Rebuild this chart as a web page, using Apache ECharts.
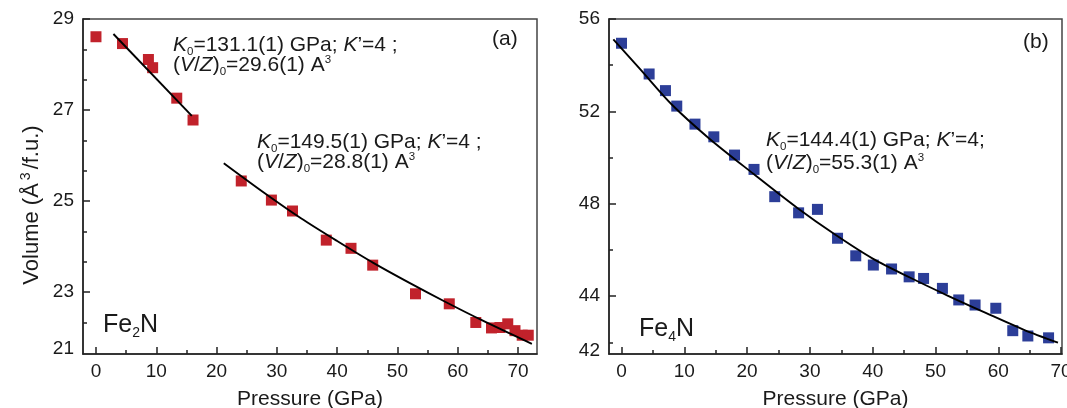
<!DOCTYPE html>
<html>
<head>
<meta charset="utf-8">
<script src="https://cdn.jsdelivr.net/npm/echarts@6/dist/echarts.min.js"></script>
<style>
html,body{margin:0;padding:0;background:#fff;}
#chart{width:1067px;height:408px;}
</style>
</head>
<body>
<div id="chart"></div>
<script>
// ---------- Data ----------
// Fe2N (panel a)
const fe2nP = [0, 4.4, 8.7, 9.4, 13.4, 16.1, 24.1, 29.1, 32.6, 38.2, 42.3, 45.9, 53.0, 58.6, 63.0, 65.6, 67.0, 68.3, 69.5, 70.7, 71.7];
const fe2nV = [28.61, 28.46, 28.11, 27.93, 27.26, 26.78, 25.44, 25.02, 24.78, 24.14, 23.96, 23.59, 22.96, 22.74, 22.33, 22.21, 22.22, 22.30, 22.15, 22.05, 22.05];
// fit line, low-pressure phase
const fe2nFit1P = [2.9, 15.9];
const fe2nFit1V = [28.67, 26.87];
// fit line, high-pressure phase
const fe2nFit2P = [21.2, 28, 34, 40, 46, 52, 58, 64, 72.3];
const fe2nFit2V = [25.83, 25.17, 24.62, 24.12, 23.64, 23.20, 22.78, 22.38, 21.86];

// Fe4N (panel b)
const fe4nP = [0, 4.4, 7.0, 8.8, 11.7, 14.7, 18.0, 21.1, 24.4, 28.2, 31.2, 34.4, 37.3, 40.1, 43.0, 45.8, 48.1, 51.1, 53.7, 56.3, 59.6, 62.3, 64.7, 68.0];
const fe4nV = [54.95, 53.62, 52.90, 52.23, 51.45, 50.90, 50.11, 49.49, 48.31, 47.61, 47.76, 46.51, 45.75, 45.35, 45.18, 44.84, 44.77, 44.34, 43.84, 43.62, 43.48, 42.51, 42.28, 42.20];
const fe4nFitP = [-1.3, 3, 8, 14, 21, 28, 34, 40, 46, 52, 58, 64, 69.5];
const fe4nFitV = [55.12, 53.82, 52.30, 50.82, 49.30, 47.82, 46.67, 45.63, 44.80, 44.02, 43.28, 42.56, 41.99];

// ---------- Ticks ----------
const xMajor = [0, 10, 20, 30, 40, 50, 60, 70];
const xMinor = [5, 15, 25, 35, 45, 55, 65];
const fe2nYMajor = [23, 25, 27, 29];
const fe2nYMinor = [22.333, 23.667, 24.333, 25.667, 26.333, 27.667, 28.333];
const fe2nYLabelVals = [21.75, 23, 25, 27, 29];
const fe2nYLabelText = ['21', '23', '25', '27', '29'];
const fe4nYMajor = [44, 48, 52, 56];
const fe4nYMinor = [42, 46, 50, 54];
const fe4nYLabelVals = [41.65, 44, 48, 52, 56];
const fe4nYLabelText = ['42', '44', '48', '52', '56'];

// ---------- Style ----------
const FONT = '"Liberation Sans", Arial, sans-serif';
const TXT = '#1a1a1a';
const AX = '#222';
const RED = '#c1222b';
const BLUE = '#2c3e98';

function pairs(a, b) { return a.map((x, i) => [x, b[i]]); }

function makeX(grid, min, max) {
  return [
    { gridIndex: grid, type: 'value', min: min, max: max, position: 'bottom',
      name: 'Pressure (GPa)', nameLocation: 'middle', nameGap: 35,
      nameTextStyle: { fontSize: 21, color: TXT, fontFamily: FONT },
      axisLine: { show: true, onZero: false, lineStyle: { color: AX, width: 1.5 } },
      axisTick: { show: true, inside: true, length: 7, customValues: xMajor, lineStyle: { color: AX, width: 1.5 } },
      axisLabel: { show: true, customValues: xMajor, fontSize: 19, color: TXT, fontFamily: FONT, margin: 8 },
      splitLine: { show: false } },
    { gridIndex: grid, type: 'value', min: min, max: max, position: 'bottom',
      axisLine: { show: false, onZero: false },
      axisTick: { show: true, inside: true, length: 4, customValues: xMinor, lineStyle: { color: AX, width: 1.5 } },
      axisLabel: { show: false }, splitLine: { show: false } }
  ];
}
function makeY(grid, min, max, major, minor, lvals, ltext) {
  return [
    { gridIndex: grid, type: 'value', min: min, max: max, position: 'left',
      axisLine: { show: true, onZero: false, lineStyle: { color: AX, width: 1.5 } },
      axisTick: { show: true, inside: true, length: 7, customValues: major, lineStyle: { color: AX, width: 1.5 } },
      axisLabel: { show: true, customValues: lvals, fontSize: 19, color: TXT, fontFamily: FONT, margin: 9,
        formatter: function (v) {
          let best = 0, d = 1e9;
          lvals.forEach((x, i) => { if (Math.abs(x - v) < d) { d = Math.abs(x - v); best = i; } });
          return ltext[best];
        } },
      splitLine: { show: false } },
    { gridIndex: grid, type: 'value', min: min, max: max, position: 'left',
      axisLine: { show: false, onZero: false },
      axisTick: { show: true, inside: true, length: 4, customValues: minor, lineStyle: { color: AX, width: 1.5 } },
      axisLabel: { show: false }, splitLine: { show: false } }
  ];
}

const annRich = {
  n: { fontSize: 21, fontFamily: FONT, color: TXT, lineHeight: 24 },
  k: { fontSize: 21, fontFamily: FONT, color: TXT, lineHeight: 24, fontStyle: 'italic' },
  sub: { fontSize: 11.5, fontFamily: FONT, color: TXT, lineHeight: 16, verticalAlign: 'bottom' },
  sup: { fontSize: 11.5, fontFamily: FONT, color: TXT, lineHeight: 16, verticalAlign: 'top' }
};
function ann(x, y, text) {
  return { type: 'text', x: x, y: y, z: 100,
    style: { text: text, rich: annRich, fill: TXT, align: 'left', verticalAlign: 'middle', fontSize: 21, fontFamily: FONT } };
}
const bigRich = {
  n: { fontSize: 25, fontFamily: FONT, color: TXT, lineHeight: 30 },
  sub: { fontSize: 14, fontFamily: FONT, color: TXT, lineHeight: 16, verticalAlign: 'bottom' }
};
const titleRich = {
  n: { fontSize: 22, fontFamily: FONT, color: TXT, lineHeight: 26 },
  sup: { fontSize: 14, fontFamily: FONT, color: TXT, lineHeight: 14, verticalAlign: 'top', padding: [0, 3, 0, 3] }
};

const chart = echarts.init(document.getElementById('chart'), null, { renderer: 'canvas' });
const option = {
  backgroundColor: '#fff',
  animation: false,
  grid: [
    { left: 83, top: 19, width: 454, height: 335, show: true, borderColor: '#444', borderWidth: 1.5,
      backgroundColor: 'transparent', containLabel: false, outerBoundsMode: 'none' },
    { left: 609, top: 19, width: 453, height: 335, show: true, borderColor: '#444', borderWidth: 1.5,
      backgroundColor: 'transparent', containLabel: false, outerBoundsMode: 'none' }
  ],
  xAxis: [].concat(makeX(0, -2.15, 73.15), makeX(1, -1.99, 70.14)),
  yAxis: [].concat(
    makeY(0, 21.637, 29, fe2nYMajor, fe2nYMinor, fe2nYLabelVals, fe2nYLabelText),
    makeY(1, 41.5, 56, fe4nYMajor, fe4nYMinor, fe4nYLabelVals, fe4nYLabelText)
  ),
  series: [
    { type: 'scatter', xAxisIndex: 0, yAxisIndex: 0, data: pairs(fe2nP, fe2nV), symbol: 'rect', symbolSize: 11,
      itemStyle: { color: RED, opacity: 1 }, z: 2 },
    { type: 'line', xAxisIndex: 0, yAxisIndex: 0, data: pairs(fe2nFit1P, fe2nFit1V), showSymbol: false,
      lineStyle: { color: '#000', width: 1.9 }, z: 5 },
    { type: 'line', xAxisIndex: 0, yAxisIndex: 0, data: pairs(fe2nFit2P, fe2nFit2V), showSymbol: false, smooth: 0.3,
      lineStyle: { color: '#000', width: 1.9 }, z: 5 },
    { type: 'scatter', xAxisIndex: 2, yAxisIndex: 2, data: pairs(fe4nP, fe4nV), symbol: 'rect', symbolSize: 11,
      itemStyle: { color: BLUE, opacity: 1 }, z: 2 },
    { type: 'line', xAxisIndex: 2, yAxisIndex: 2, data: pairs(fe4nFitP, fe4nFitV), showSymbol: false, smooth: 0.3,
      lineStyle: { color: '#000', width: 1.9 }, z: 5 }
  ],
  graphic: [
    ann(173, 45.5, '{k|K}{sub|0}{n|=131.1(1) GPa; }{k|K}{n|\u2019=4 ;}'),
    ann(173, 65.5, '{n|(}{k|V}{n|/}{k|Z}{n|)}{sub|0}{n|=29.6(1) A}{sup|3}'),
    ann(257, 142.5, '{k|K}{sub|0}{n|=149.5(1) GPa; }{k|K}{n|\u2019=4 ;}'),
    ann(257, 162.5, '{n|(}{k|V}{n|/}{k|Z}{n|)}{sub|0}{n|=28.8(1) A}{sup|3}'),
    ann(766, 140.5, '{k|K}{sub|0}{n|=144.4(1) GPa; }{k|K}{n|\u2019=4;}'),
    ann(766, 163.5, '{n|(}{k|V}{n|/}{k|Z}{n|)}{sub|0}{n|=55.3(1) A}{sup|3}'),
    ann(492, 39.5, '{n|(a)}'),
    ann(1023, 42.5, '{n|(b)}'),
    { type: 'text', x: 103, y: 325, z: 100,
      style: { text: '{n|Fe}{sub|2}{n|N}', rich: bigRich, fill: TXT, align: 'left', verticalAlign: 'middle', fontSize: 25, fontFamily: FONT } },
    { type: 'text', x: 639, y: 329, z: 100,
      style: { text: '{n|Fe}{sub|4}{n|N}', rich: bigRich, fill: TXT, align: 'left', verticalAlign: 'middle', fontSize: 25, fontFamily: FONT } },
    { type: 'text', x: 32, y: 205, rotation: Math.PI / 2, z: 100,
      style: { text: '{n|Volume (\u00c5}{sup|3}{n|/f.u.)}', rich: titleRich, fill: TXT, align: 'center', verticalAlign: 'middle', fontSize: 22, fontFamily: FONT } }
  ]
};
chart.setOption(option);
</script>
</body>
</html>
